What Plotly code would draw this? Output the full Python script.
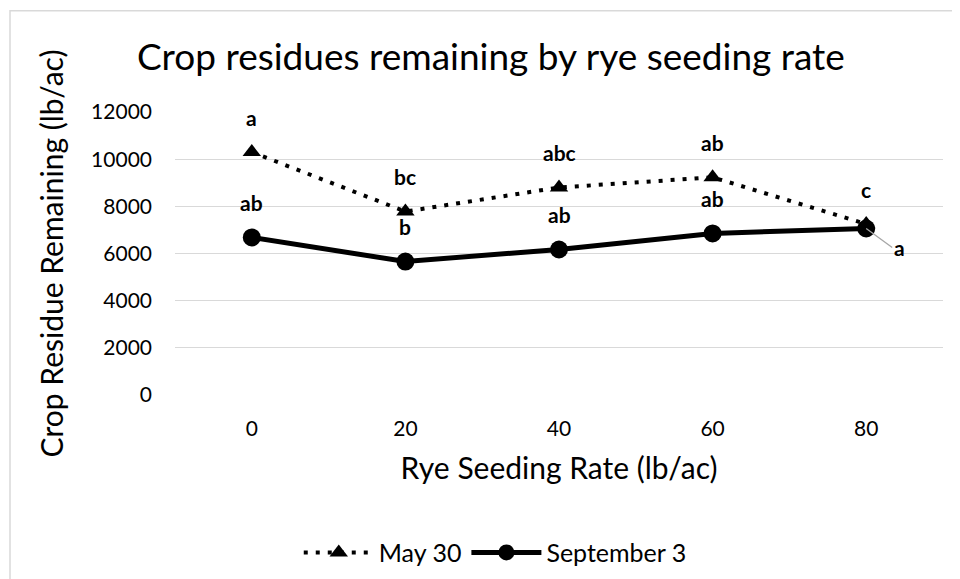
import plotly.graph_objects as go

rates = [0, 20, 40, 60, 80]
may30 = [10300, 7780, 8800, 9230, 7250]
sep3 = [6680, 5660, 6170, 6850, 7060]
may30_labels = ["a", "bc", "abc", "ab", "c"]
sep3_labels = ["ab", "b", "ab", "ab", "a"]
y_ticks = [0, 2000, 4000, 6000, 8000, 10000, 12000]

FONT = "Lato, Open Sans, sans-serif"

# page body has an 8px offset; margins compensate so the plot area lands at
# x 175..943, y 112..397 in the page
L, R, T, B = 167, 25, 104, 190
W, H = 960, 579
PW, PH = W - L - R, H - T - B

fig = go.Figure()
fig.add_trace(go.Scatter(
    x=rates, y=may30, name="May 30",
    mode="lines+markers",
    line=dict(color="black", width=4, dash="4px,8px"),
    marker=dict(symbol="triangle-up", size=16, color="black"),
))
fig.add_trace(go.Scatter(
    x=rates, y=sep3, name="September 3",
    mode="lines+markers",
    line=dict(color="black", width=5),
    marker=dict(symbol="circle", size=18, color="black"),
))

lab_font = dict(family=FONT, size=21, color="black", weight="bold")
for xv, yv, t in zip(rates, may30, may30_labels):
    fig.add_annotation(x=xv, y=yv, text=t, showarrow=False, yshift=35,
                       font=lab_font)
for i, (xv, yv, t) in enumerate(zip(rates, sep3, sep3_labels)):
    if i < len(rates) - 1:
        fig.add_annotation(x=xv, y=yv, text=t, showarrow=False, yshift=35,
                           font=lab_font)
    else:
        fig.add_annotation(x=xv, y=yv, text=t, xanchor="left", yanchor="middle",
                           ax=26, ay=19, showarrow=True, arrowhead=0,
                           arrowwidth=1.3, arrowcolor="#a6a6a6", standoff=0,
                           font=lab_font)

fig.update_layout(
    width=W, height=H,
    margin=dict(l=L, r=R, t=T, b=B),
    paper_bgcolor="white", plot_bgcolor="white",
    title=dict(text="Crop residues remaining by rye seeding rate",
               x=0.503, xanchor="center", y=0.915, yanchor="middle",
               font=dict(family=FONT, size=37, color="black")),
    xaxis=dict(
        range=[-10, 90], tickvals=rates, showgrid=False, zeroline=False,
        tickfont=dict(family=FONT, size=21, color="black"),
        ticks="", ticklabelstandoff=19,
        title=dict(text="Rye Seeding Rate (lb/ac)",
                   font=dict(family=FONT, size=30, color="black"),
                   standoff=18),
    ),
    yaxis=dict(
        range=[0, 12000], tickvals=y_ticks, tickformat="d",
        showgrid=True, gridcolor="#d9d9d9", gridwidth=1.3,
        zeroline=False, showline=False,
        tickfont=dict(family=FONT, size=21, color="black"),
        ticks="", ticklabelstandoff=22,
        title=dict(text="Crop Residue Remaining (lb/ac)",
                   font=dict(family=FONT, size=30, color="black"),
                   standoff=18),
    ),
    showlegend=True,
    legend=dict(orientation="h", x=0.417, xanchor="center",
                y=-0.557, yanchor="middle", itemwidth=70,
                font=dict(family=FONT, size=25, color="black")),
)

fig.add_shape(type="rect", xref="paper", yref="paper",
              x0=(2 - L) / PW, x1=(W + 20 - L) / PW,
              y0=-(B + 40) / PH, y1=(H - B - 2) / PH,
              line=dict(color="#d9d9d9", width=1.5), fillcolor="rgba(0,0,0,0)",
              layer="below")

fig.write_html("out.html")
